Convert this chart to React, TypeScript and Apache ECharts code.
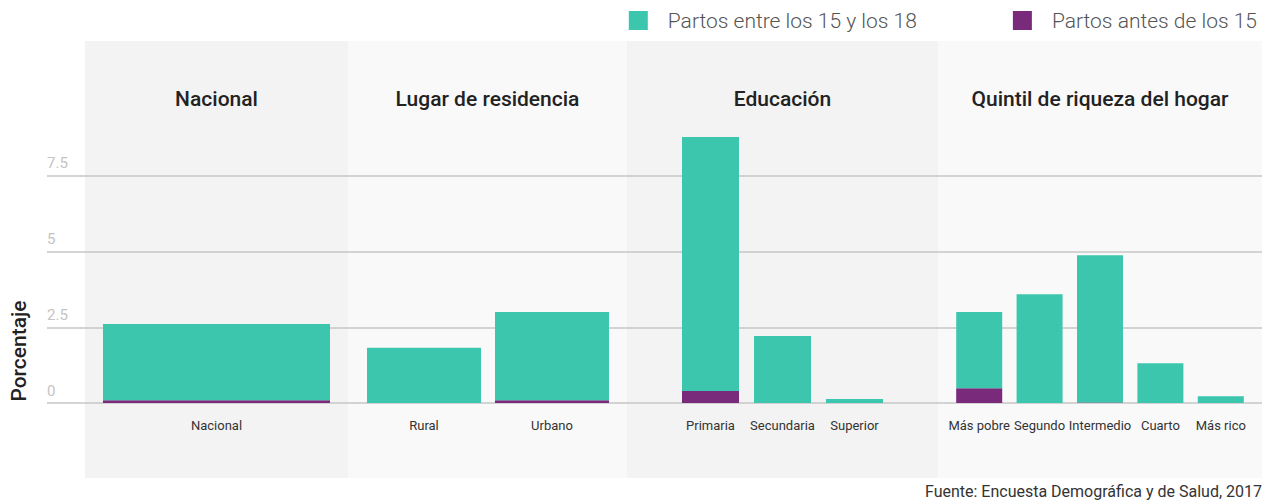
import React, { useEffect, useRef } from "react";
import * as echarts from "echarts";

const SERIES_TEEN = "Partos entre los 15 y los 18";
const SERIES_CHILD = "Partos antes de los 15";

const groupTitles = ["Nacional", "Lugar de residencia", "Educación", "Quintil de riqueza del hogar"];

const catNacional = ["Nacional"];
const catResidencia = ["Rural", "Urbano"];
const catEducacion = ["Primaria", "Secundaria", "Superior"];
const catQuintil = ["Más pobre", "Segundo", "Intermedio", "Cuarto", "Más rico"];

// stacked segments: child (<15) at the bottom, teen (15-18) on top
const childNacional = [0.09];
const teenNacional = [2.52];
const childResidencia = [0, 0.09];
const teenResidencia = [1.82, 2.91];
const childEducacion = [0.4, 0, 0];
const teenEducacion = [8.38, 2.21, 0.13];
const childQuintil = [0.49, 0, 0.02, 0, 0];
const teenQuintil = [2.51, 3.59, 4.86, 1.31, 0.22];

const yTicks = [0, 2.5, 5, 7.5];

const TEAL = "#3cc6ae";
const PURPLE = "#7a2a7a";
const FONT = "Roboto, 'Noto Sans', sans-serif";

export default function App() {
  const ref = useRef<HTMLDivElement>(null);
  useEffect(() => {
    document.body.style.margin = "0";
    if (!ref.current) return;
    const chart = echarts.init(ref.current, undefined, { renderer: "svg" });

    const TOP = 100;
    const BOTTOM = 101;
    const groups = [
      { cats: catNacional, child: childNacional, teen: teenNacional, left: 96, width: 241, bw: 227 },
      { cats: catResidencia, child: childResidencia, teen: teenResidencia, left: 360, width: 256, bw: 114 },
      { cats: catEducacion, child: childEducacion, teen: teenEducacion, left: 674.5, width: 216, bw: 57 },
      { cats: catQuintil, child: childQuintil, teen: teenQuintil, left: 949, width: 302, bw: 46 },
    ];
    const panels = [
      { x: 85, w: 263, c: "#f3f3f3" },
      { x: 348, w: 279, c: "#f9f9f9" },
      { x: 627, w: 311, c: "#f3f3f3" },
      { x: 938, w: 324, c: "#f9f9f9" },
    ];

    const grid: any[] = [{ left: 47, right: 9, top: TOP, bottom: BOTTOM }];
    const xAxis: any[] = [{ type: "value", gridIndex: 0, min: 0, max: 1, show: false }];
    const lineC = "#c6c6c6";
    const yAxis: any[] = [
      {
        type: "value",
        gridIndex: 0,
        min: 0,
        max: 10,
        interval: 2.5,
        axisLine: { show: false },
        axisTick: { show: false },
        splitLine: { show: true, lineStyle: { color: [lineC, lineC, lineC, lineC, "rgba(0,0,0,0)"], width: 1.5 } },
        axisLabel: {
          inside: true,
          margin: 0,
          verticalAlign: "bottom",
          padding: [0, 0, 5, 0],
          color: "#c4c4c4",
          fontSize: 15,
          fontFamily: FONT,
          showMaxLabel: false,
          formatter: (v: number) => (yTicks.includes(v) ? String(v) : ""),
        },
      },
    ];
    const series: any[] = [];
    groups.forEach((g, i) => {
      const gi = i + 1;
      grid.push({ left: g.left, width: g.width, top: TOP, bottom: BOTTOM });
      xAxis.push({
        type: "category",
        gridIndex: gi,
        data: g.cats,
        axisLine: { show: false },
        axisTick: { show: false },
        axisLabel: { interval: 0, hideOverlap: false, margin: 16, fontSize: 13, color: "#333", fontFamily: FONT },
      });
      yAxis.push({ type: "value", gridIndex: gi, min: 0, max: 10, show: false });
      series.push({
        type: "bar",
        name: SERIES_CHILD,
        xAxisIndex: gi,
        yAxisIndex: gi,
        stack: "s" + gi,
        barWidth: g.bw,
        data: g.child,
        itemStyle: { color: PURPLE },
      });
      series.push({
        type: "bar",
        name: SERIES_TEEN,
        xAxisIndex: gi,
        yAxisIndex: gi,
        stack: "s" + gi,
        barWidth: g.bw,
        data: g.teen,
        itemStyle: { color: TEAL },
      });
    });

    const graphic: any[] = [];
    panels.forEach((p) => {
      graphic.push({
        type: "rect",
        z: -100,
        shape: { x: p.x, y: 41, width: p.w, height: 437 },
        style: { fill: p.c },
        silent: true,
      });
    });
    panels.forEach((p, i) => {
      graphic.push({
        type: "text",
        z: 100,
        x: p.x + p.w / 2,
        y: 99,
        style: {
          text: groupTitles[i],
          fill: "#222",
          font: `500 21px ${FONT}`,
          textAlign: "center",
          textVerticalAlign: "middle",
        },
      });
    });
    graphic.push({
      type: "text",
      z: 100,
      x: 19,
      y: 351,
      rotation: Math.PI / 2,
      style: {
        text: "Porcentaje",
        fill: "#222",
        font: `500 21px ${FONT}`,
        textAlign: "center",
        textVerticalAlign: "middle",
      },
    });
    graphic.push({
      type: "text",
      z: 100,
      x: 1262,
      y: 491,
      style: {
        text: "Fuente: Encuesta Demográfica y de Salud, 2017",
        fill: "#333",
        font: `16px ${FONT}`,
        textAlign: "right",
        textVerticalAlign: "middle",
      },
    });

    chart.setOption({
      animation: false,
      legend: {
        data: [SERIES_TEEN, SERIES_CHILD],
        right: 9,
        top: 5,
        icon: "rect",
        itemWidth: 19,
        itemHeight: 19,
        itemGap: 96,
        textStyle: { fontSize: 21, fontWeight: 300, color: "#555", fontFamily: FONT, padding: [0, 0, 0, 15] },
        selectedMode: false,
      },
      grid,
      xAxis,
      yAxis,
      series,
      graphic,
    });
    return () => chart.dispose();
  }, []);
  return <div ref={ref} style={{ width: 1271, height: 504 }} />;
}
